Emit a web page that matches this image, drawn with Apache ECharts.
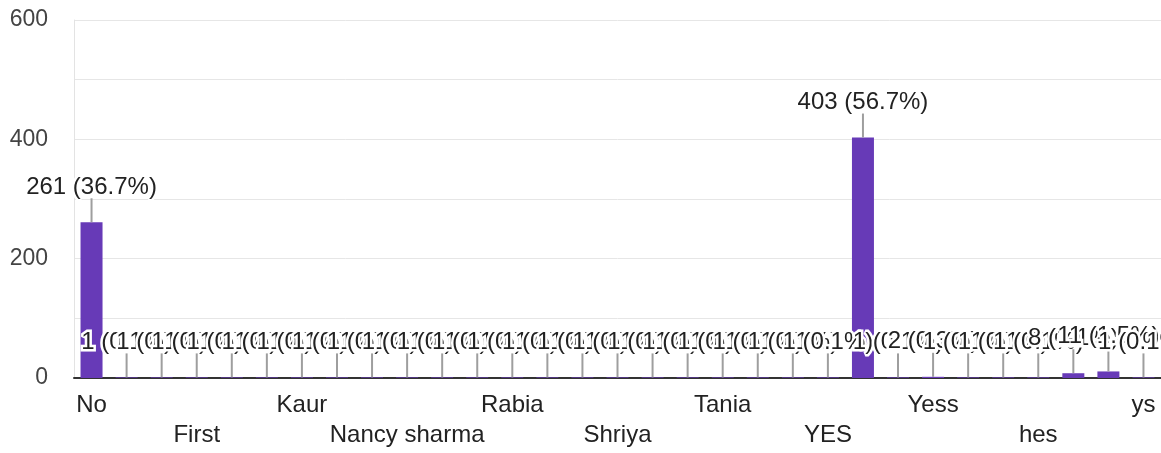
<!DOCTYPE html>
<html>
<head>
<meta charset="utf-8">
<script src="https://cdn.jsdelivr.net/npm/echarts@6/dist/echarts.min.js"></script>
<style>
  html, body { margin: 0; padding: 0; background: #fff; }
  #chart { width: 1161px; height: 453px; }
</style>
</head>
<body>
<div id="chart"></div>
<script>
// answers, in the order the form shows them
var categories = ['No', 'Anjali', 'Divya', 'First', 'Harpreet', 'Jyoti', 'Kaur', 'Komal', 'Maybe',
  'Nancy sharma', 'Neha', 'Pooja', 'Rabia', 'Riya', 'Sakshi', 'Shriya', 'Simran', 'Sonia',
  'Tania', 'Tanya', 'Y', 'YES', 'Yes', 'Yes.', 'Yess', 'Yesss', 'Yse', 'hes', 'no', 'yes', 'ys'];
var counts = [261, 1, 1, 1, 1, 1, 1, 1, 1,
  1, 1, 1, 1, 1, 1, 1, 1, 1,
  1, 1, 1, 1, 403, 1, 2, 1, 1, 1, 8, 11, 1];
var percents = ['36.7', '0.1', '0.1', '0.1', '0.1', '0.1', '0.1', '0.1', '0.1',
  '0.1', '0.1', '0.1', '0.1', '0.1', '0.1', '0.1', '0.1', '0.1',
  '0.1', '0.1', '0.1', '0.1', '56.7', '0.1', '0.3', '0.1', '0.1', '0.1', '1.1', '1.5', '0.1'];
var yTicks = [0, 200, 400, 600];

var FONT = 'Liberation Sans, Arial, sans-serif';
var myChart = echarts.init(document.getElementById('chart'));

var option = {
  animation: false,
  grid: { left: 74, right: 0, top: 20, bottom: 75, containLabel: false },
  xAxis: {
    type: 'category',
    data: categories,
    axisLine: { lineStyle: { color: '#333', width: 2 } },
    axisTick: { show: false },
    axisLabel: {
      interval: 2,
      margin: 12,
      color: '#222',
      fontFamily: FONT,
      fontSize: 24,
      lineHeight: 30,
      formatter: function (value) {
        var i = categories.indexOf(value);
        return (i / 3) % 2 === 1 ? '\n' + value : value;
      }
    }
  },
  yAxis: {
    type: 'value',
    min: 0,
    max: 600,
    interval: 100,
    axisLine: { show: true, lineStyle: { color: '#e3e3e3', width: 1 } },
    axisTick: { show: false },
    splitLine: { lineStyle: { color: '#e6e6e6', width: 1 } },
    axisLabel: {
      margin: 26,
      color: '#444',
      fontFamily: FONT,
      fontSize: 23,
      formatter: function (v) { return yTicks.indexOf(v) >= 0 ? String(v) : ''; }
    }
  },
  series: [
    {
      type: 'bar',
      data: counts,
      barWidth: 22,
      itemStyle: { color: '#673ab7' },
      z: 2
    },
    {
      // value labels with their leader lines
      type: 'custom',
      data: counts.map(function (v, i) { return [i, v]; }),
      z: 5,
      renderItem: function (params, api) {
        var i = api.value(0);
        var top = api.coord([i, api.value(1)]);
        return {
          type: 'group',
          children: [
            {
              type: 'line',
              shape: { x1: top[0], y1: top[1] - 24, x2: top[0], y2: top[1] },
              style: { stroke: '#9e9e9e', lineWidth: 2 },
              z2: i * 2
            },
            {
              type: 'text',
              x: top[0],
              y: top[1] - 35,
              style: {
                text: counts[i] + ' (' + percents[i] + '%)',
                fill: '#222',
                font: '24px ' + FONT,
                align: 'center',
                verticalAlign: 'middle',
                stroke: '#fff',
                lineWidth: 5
              },
              z2: i * 2 + 1
            }
          ]
        };
      }
    }
  ]
};

option && myChart.setOption(option);
</script>
</body>
</html>
